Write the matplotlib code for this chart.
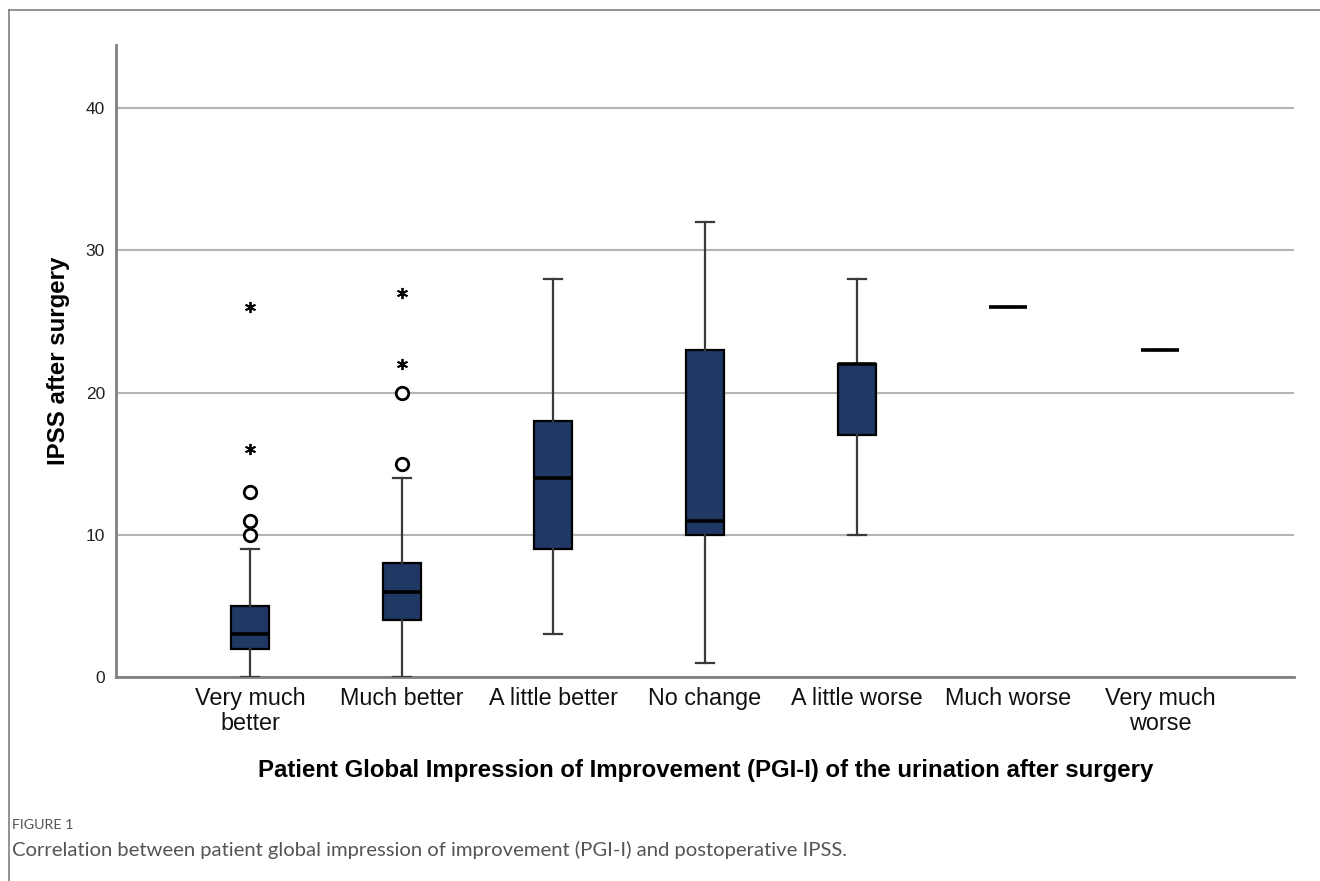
import matplotlib
matplotlib.use("Agg")
import matplotlib.pyplot as plt
from matplotlib.lines import Line2D

categories = ["Very much\nbetter", "Much better", "A little better", "No change",
              "A little worse", "Much worse", "Very much\nworse"]
whisker_low = [0, 0, 3, 1, 10, 26, 23]
q1 = [2, 4, 9, 10, 17, 26, 23]
medians = [3, 6, 14, 11, 22, 26, 23]
q3 = [5, 8, 18, 23, 22, 26, 23]
whisker_high = [9, 14, 28, 32, 28, 26, 23]
outliers_circle = [[10, 11, 13], [15, 20], [], [], [], [], []]
outliers_star = [[16, 26], [22, 27], [], [], [], [], []]
yticks = [0, 10, 20, 30, 40]

fig = plt.figure(figsize=(13.2, 8.81), dpi=100)
ax = fig.add_axes([116/1320, 1-677/881, (1294-116)/1320, (677-45)/881])

positions = list(range(1, len(categories) + 1))
stats = []
for i in range(len(categories)):
    stats.append(dict(med=medians[i], q1=q1[i], q3=q3[i],
                      whislo=whisker_low[i], whishi=whisker_high[i], fliers=[]))

box_color = "#203864"
ax.bxp(stats, positions=positions, widths=0.25, showfliers=False,
       patch_artist=True,
       boxprops=dict(facecolor=box_color, edgecolor="black", linewidth=1.6),
       medianprops=dict(color="black", linewidth=2.6, solid_capstyle="butt"),
       whiskerprops=dict(color="#3a3a3a", linewidth=1.6),
       capprops=dict(color="#3a3a3a", linewidth=1.6),
       capwidths=0.12, zorder=3)

for i, p in enumerate(positions):
    if outliers_circle[i]:
        ax.plot([p]*len(outliers_circle[i]), outliers_circle[i], linestyle="none",
                marker="o", markersize=9, markerfacecolor="white",
                markeredgecolor="black", markeredgewidth=2, zorder=4)
    if outliers_star[i]:
        ax.plot([p]*len(outliers_star[i]), outliers_star[i], linestyle="none",
                marker=(6, 2, 0), markersize=8, markeredgecolor="black",
                markeredgewidth=1.3, zorder=4)

ax.set_xlim(0.1165, 7.8835)
ax.set_ylim(0, 44.43)
ax.set_yticks(yticks)
ax.set_yticklabels([str(v) for v in yticks], fontsize=12.5, family="Liberation Sans",
                   color="#222222")
ax.set_xticks(positions)
ax.set_xticklabels(categories, fontsize=16.8, family="Liberation Sans", color="#111111",
                   linespacing=1.1)
ax.tick_params(axis="both", length=0)
ax.tick_params(axis="y", pad=8)
ax.tick_params(axis="x", pad=7)
ax.yaxis.grid(True, color="#b4b4b4", linewidth=1.5, zorder=0)
ax.set_axisbelow(True)
for s in ["top", "right"]:
    ax.spines[s].set_visible(False)
for s in ["left", "bottom"]:
    ax.spines[s].set_color("#808080")
    ax.spines[s].set_linewidth(2)

fig.text(58/1320, 1-361/881, "IPSS after surgery", rotation=90, ha="center",
         va="center", fontsize=17.3, fontweight="bold", family="Liberation Sans")
fig.text(706/1320, 1-770/881,
         "Patient Global Impression of Improvement (PGI-I) of the urination after surgery",
         ha="center", va="center", fontsize=17.3, fontweight="bold",
         family="Liberation Sans")

fig.text(12/1320, 1-825/881, "FIGURE 1", ha="left", va="center", fontsize=10.3,
         color="#555555", family="Lato")
fig.text(12/1320, 1-850/881,
         "Correlation between patient global impression of improvement (PGI-I) and postoperative IPSS.",
         ha="left", va="center", fontsize=14.6, color="#555555", family="Lato")

# outer frame (top and left edges)
fig.add_artist(Line2D([9/1320, 9/1320], [0, 1-10/881], transform=fig.transFigure,
                      color="#808080", linewidth=1.2))
fig.add_artist(Line2D([9/1320, 1], [1-10/881, 1-10/881], transform=fig.transFigure,
                      color="#808080", linewidth=1.2))

fig.savefig("out.png", dpi=100)
